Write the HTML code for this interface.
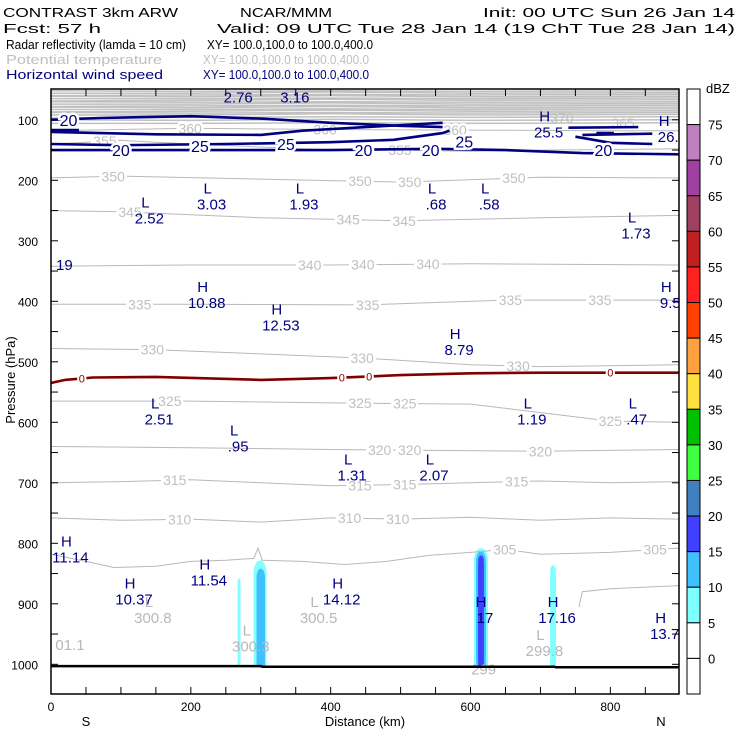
<!DOCTYPE html>
<html><head><meta charset="utf-8"><style>
body{margin:0;background:#fff}
svg{display:block;font-family:"Liberation Sans",sans-serif}
</style></head><body>
<svg id="chart" width="740" height="740" viewBox="0 0 740 740">
<g font-size="13">
<text x="3" y="17" textLength="175" lengthAdjust="spacingAndGlyphs">CONTRAST  3km ARW</text>
<text x="240" y="17" textLength="92" lengthAdjust="spacingAndGlyphs">NCAR/MMM</text>
<text x="483" y="17" textLength="252" lengthAdjust="spacingAndGlyphs">Init: 00 UTC Sun 26 Jan 14</text>
<text x="3" y="33" textLength="98" lengthAdjust="spacingAndGlyphs">Fcst:   57 h</text>
<text x="217" y="33" textLength="518" lengthAdjust="spacingAndGlyphs">Valid: 09 UTC Tue 28 Jan 14 (19 ChT Tue 28 Jan 14)</text>
<text x="6" y="49" textLength="180" lengthAdjust="spacingAndGlyphs">Radar reflectivity (lamda = 10 cm)</text>
<text x="207" y="49" textLength="166" lengthAdjust="spacingAndGlyphs">XY= 100.0,100.0 to 100.0,400.0</text>
<text x="6" y="64" fill="#c0c0c0" textLength="156" lengthAdjust="spacingAndGlyphs">Potential temperature</text>
<text x="203" y="64" fill="#c0c0c0" textLength="166" lengthAdjust="spacingAndGlyphs">XY= 100.0,100.0 to 100.0,400.0</text>
<text x="6" y="79" fill="#000080" textLength="157" lengthAdjust="spacingAndGlyphs">Horizontal wind speed</text>
<text x="203" y="79" fill="#000080" textLength="166" lengthAdjust="spacingAndGlyphs">XY= 100.0,100.0 to 100.0,400.0</text>
</g>
<defs><clipPath id="plotclip"><rect x="51" y="89" width="628" height="605"/></clipPath></defs>
<g id="plotarea" clip-path="url(#plotclip)"></g>
<g id="axes"></g>
</svg>
<script>
var xTicks=[0,200,400,600,800];
var yTicks=[100,200,300,400,500,600,700,800,900,1000];
var cbLevels=[75,70,65,60,55,50,45,40,35,30,25,20,15,10,5,0];
var cbColors=["#ffffff","#c080c0","#a040a0","#a04060","#c02020","#ff2020","#ff4000","#ffa040","#ffe040","#00c000","#40ff40","#4080c0","#4040ff","#40c0ff","#80ffff","#ffffff","#ffffff"];
var thetaLevels=[305,310,315,320,325,330,335,340,345,350,355,360];
var thetaLines=[
[[0,818],[50,830],[90,840],[150,838],[200,830],[250,828],[290,825],[296,808],[302,828],[360,830],[420,835],[480,830],[540,820],[600,815],[650,810],[700,818],[800,815],[898,808]],
[[0,758],[100,762],[200,760],[300,765],[400,758],[500,760],[600,757],[700,762],[800,758],[898,760]],
[[0,700],[100,698],[200,695],[300,700],[400,705],[500,703],[600,700],[700,697],[800,700],[898,698]],
[[0,640],[200,642],[400,645],[500,646],[700,648],[898,645]],
[[0,565],[200,565],[400,568],[600,570],[800,598],[898,600]],
[[0,478],[150,480],[300,487],[450,494],[600,505],[700,508],[898,505]],
[[0,405],[200,405],[450,406],[650,398],[898,398]],
[[0,342],[200,340],[400,340],[600,338],[898,340]],
[[0,250],[100,252],[300,262],[500,267],[700,262],[898,258]],
[[0,196],[100,193],[300,198],[500,203],[700,195],[898,196]],
[[0,140],[100,134],[200,140],[400,150],[500,150],[600,152],[700,150],[898,148]],
[[0,118],[200,114],[400,116],[600,117],[800,118],[898,118]]];
var thetaLabelKm=[[649,864],[184,427,496],[177,442,506,666],[470,513,700],[170,442,506,800],[145,445,668],[127,453,657,785],[370,446,539],[113,425,505],[89,442,513,662],[77,499],[199,392,578]];
var thetaExtra=[[[755,905],[760,880],[800,875],[898,870]]];
var topLevels=[52,55,58,61,64,67,70,73,76,79,82,85,88,91,95,100,105];
var windLines=[
[[0,100],[70,97],[200,94],[300,98],[400,105],[500,110],[560,112]],
[[0,117],[40,117]],
[[0,120],[150,124],[300,125],[360,118],[450,112],[560,105]],
[[0,140],[100,142],[250,140],[400,137],[490,133],[560,122],[570,118]],
[[0,150],[150,150],[400,150],[550,148],[650,150],[760,155],[898,157]],
[[740,113],[840,112]],[[760,125],[860,123]],[[750,128],[800,138],[860,140]],[[780,122],[805,122]]];
var windLabels=[[25,100,"20"],[100,150,"20"],[213,143,"25"],[336,140,"25"],[447,150,"20"],[543,150,"20"],[591,136,"25"],[790,150,"20"]];
var freezeLine=[[0,535],[20,530],[60,526],[150,525],[300,530],[400,527],[500,522],[600,519],[700,518],[898,518]];
var freezeLabelKm=[44,416,455,800];
var cells=[[299,9,828,14],[300,6,842,13],[269,2,858,14],[615,10,808,14],[615,7,813,13],[615,4,820,12],[718,4,836,14]];
var hl=[[262,45,"L","2.76",0],[343,45,"L","3.16",0],[706,103,"H","25.5",0],[877,110,"H","26.",0],
[135,245,"L","2.52",0],[224,222,"L","3.03",0],[356,222,"L","1.93",0],[545,222,"L",".68",0],[621,222,"L",".58",0],[831,270,"L","1.73",0],[2,322,"","19",0],
[217,385,"H","10.88",0],[323,422,"H","12.53",0],[880,385,"H","9.5",0],
[578,462,"H","8.79",0],[149,577,"L","2.51",0],[262,622,"L",".95",0],[425,670,"L","1.31",0],[542,670,"L","2.07",0],[682,577,"L","1.19",0],[832,577,"L",".47",0],
[22,805,"H","11.14",0],[113,875,"H","10.37",0],[220,843,"H","11.54",0],[410,875,"H","14.12",0],[615,905,"H","17",0],[718,905,"H","17.16",0],[872,932,"H","13.7",0],
[140,905,"L","300.8",1],[377,905,"L","300.5",1],[280,952,"L","300.3",1],[10,950,"","01.1",1],[700,960,"L","299.8",1],[613,990,"","299",1]];

var SVGNS="http://www.w3.org/2000/svg";
var PX0=51,PX1=679,PY0=89,PY1=694;
function xs(k){return PX0+k*0.6992;}
function ys(p){return 119.8+(p-100)*0.605;}
var area=document.getElementById('plotarea');
var axes=document.getElementById('axes');
function mk(tag,at,parent){var e=document.createElementNS(SVGNS,tag);for(var k in at){e.setAttribute(k,String(at[k]));}parent.appendChild(e);return e;}
function pts(a){var s=[];for(var i=0;i<a.length;i++){s.push(xs(a[i][0]).toFixed(1)+','+ys(a[i][1]).toFixed(1));}return s.join(' ');}
function interpP(line,k){for(var i=0;i<line.length-1;i++){if(k>=line[i][0]&&k<=line[i+1][0]){var t=(k-line[i][0])/(line[i+1][0]-line[i][0]);return line[i][1]+t*(line[i+1][1]-line[i][1]);}}return line[line.length-1][1];}

try{
topLevels.forEach(function(p,i){
var e=mk('polyline',{points:pts([[0,p+(i%3)],[200,p+1],[400,p-(i%2)],[600,p+1],[898,p]]),fill:'none',stroke:'#c0c0c0','stroke-width':1.5},area);


});
}catch(err){}

try{
cells.forEach(function(c){
var x=xs(c[0]-c[1]),w=xs(c[0]+c[1])-x,y=ys(c[2]),h=ys(1003)-y;
var e=mk('rect',{x:x,y:y,width:w,height:h,rx:w/2,ry:Math.min(w,12),fill:cbColors[c[3]]},area);


var e2=mk('rect',{x:x,y:y+10,width:w,height:h-10,fill:cbColors[c[3]]},area);


});
}catch(err){}

try{
thetaLines.forEach(function(line,i){
var e=mk('polyline',{points:pts(line),fill:'none',stroke:'#b8b8b8','stroke-width':1},area);


thetaLabelKm[i].forEach(function(k){
var t=mk('text',{x:xs(k),y:ys(interpP(line,k))+5,'text-anchor':'middle','font-size':14,fill:'#c0c0c0',stroke:'#ffffff','stroke-width':5,'paint-order':'stroke'},area);
t.textContent=String(thetaLevels[i]);


});
});
thetaExtra.forEach(function(line){
var e=mk('polyline',{points:pts(line),fill:'none',stroke:'#b8b8b8','stroke-width':1},area);


});
[[623,123,"365"],[562,118,"370"]].forEach(function(l){
var t=mk('text',{x:l[0],y:l[1]+5,'text-anchor':'middle','font-size':14,fill:'#c0c0c0'},area);
t.textContent=l[2];


});
}catch(err){}

try{
windLines.forEach(function(line){
var e=mk('polyline',{points:pts(line),fill:'none',stroke:'#000080','stroke-width':2.6},area);


});
windLabels.forEach(function(l){
var t=mk('text',{x:xs(l[0]),y:ys(l[1])+6,'text-anchor':'middle','font-size':16,fill:'#000080',stroke:'#ffffff','stroke-width':5,'paint-order':'stroke'},area);
t.textContent=l[2];


});
}catch(err){}

try{
var fz=mk('polyline',{points:pts(freezeLine),fill:'none',stroke:'#800000','stroke-width':2.6},area);


freezeLabelKm.forEach(function(k){
var t=mk('text',{x:xs(k),y:ys(interpP(freezeLine,k))+4,'text-anchor':'middle','font-size':11,fill:'#800000',stroke:'#ffffff','stroke-width':4,'paint-order':'stroke'},area);
t.textContent='0';


});
}catch(err){}

try{
hl.forEach(function(h){
var col=h[4]?'#b8b8b8':'#000080';var x=xs(h[0]),y=ys(h[1]);
if(h[2]){
var t=mk('text',{x:x,y:y,'text-anchor':'middle','font-size':15,fill:col},area);
t.textContent=h[2];


}
var v=mk('text',{x:x+(h[0]<15?12:4),y:y+16,'text-anchor':'middle','font-size':15,fill:col},area);
v.textContent=h[3];


});
var gr=mk('polyline',{points:pts([[0,1003],[300,1003],[302,1004],[720,1004],[722,1005],[898,1005]]),fill:'none',stroke:'#000000','stroke-width':2.5},area);


}catch(err){}

try{
var fr=mk('rect',{x:PX0,y:PY0,width:PX1-PX0,height:PY1-PY0,fill:'none',stroke:'#000000','stroke-width':1.5},axes);


for(var k=0;k<=850;k+=50){var x=xs(k);
var a1=mk('line',{x1:x,x2:x,y1:PY1,y2:PY1-7,stroke:'#000000'},axes);


var a2=mk('line',{x1:x,x2:x,y1:PY0,y2:PY0+7,stroke:'#000000'},axes);

}
xTicks.forEach(function(k){
var t=mk('text',{x:xs(k),y:711,'text-anchor':'middle','font-size':12},axes);
t.textContent=String(k);


});
for(var p=100;p<=1000;p+=50){var y=ys(p);
var b1=mk('line',{x1:PX0,x2:PX0+7,y1:y,y2:y,stroke:'#000000'},axes);


var b2=mk('line',{x1:PX1,x2:PX1-7,y1:y,y2:y,stroke:'#000000'},axes);

}
yTicks.forEach(function(p){
var t=mk('text',{x:38,y:ys(p)+5,'text-anchor':'end','font-size':12},axes);
t.textContent=String(p);


});
[[86,'S','south-label'],[365,'Distance (km)','x-axis-title'],[661,'N','north-label']].forEach(function(l){
var t=mk('text',{x:l[0],y:726,'text-anchor':'middle','font-size':13},axes);
t.textContent=l[1];


});
var yt=mk('text',{x:0,y:0,transform:'translate(15,380) rotate(-90)','text-anchor':'middle','font-size':13},axes);
yt.textContent='Pressure (hPa)';


}catch(err){}

try{
var bh=(PY1-PY0)/cbColors.length;
cbColors.forEach(function(c,i){
var r=mk('rect',{x:687,y:PY0+i*bh,width:13,height:bh,fill:c,stroke:'#000000','stroke-width':1},axes);


});
cbLevels.forEach(function(v,i){
var t=mk('text',{x:708,y:PY0+(i+1)*bh+5,'font-size':13},axes);
t.textContent=String(v);


});
var du=mk('text',{x:706,y:93,'font-size':13},axes);
du.textContent='dBZ';


}catch(err){}
</script>
</body></html>
